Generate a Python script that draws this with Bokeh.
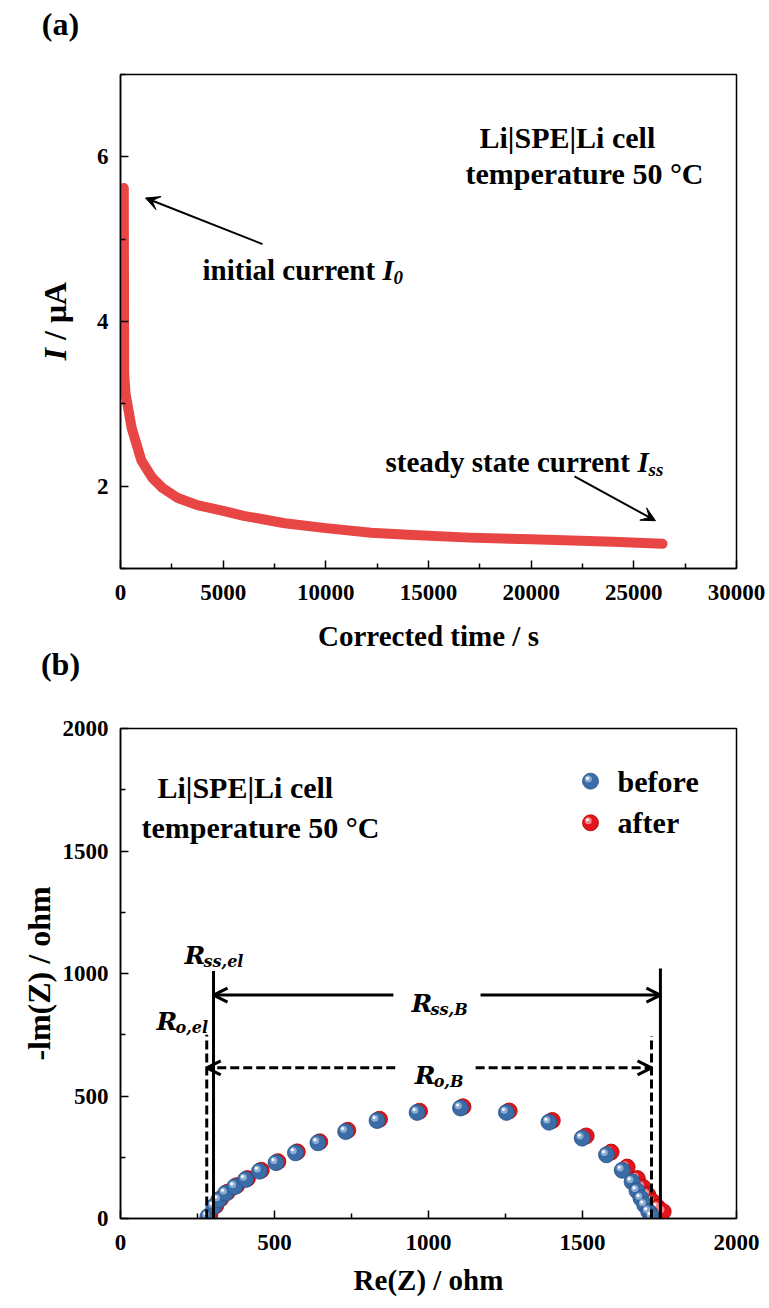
from bokeh.plotting import figure
from bokeh.models import Range1d, FixedTicker, Label, Arrow, VeeHead, OpenHead, LinearAxis
from bokeh.layouts import column, row
from bokeh.embed import file_html
from bokeh.resources import INLINE

SERIF = "Liberation Serif"
MATH = "DejaVu Serif"
HALF_PI = 1.5707963267948966

# ---------------- (a) chronoamperometry ----------------
time_s = [160, 170, 180, 243, 540, 1020, 1550, 2040, 2760, 3740, 5000, 6000,
          8000, 10000, 12200, 14000, 17000, 20000, 22000, 24000, 26400]
current_uA = [5.62, 4.50, 3.37, 3.13, 2.71, 2.31, 2.10, 1.98, 1.86, 1.77, 1.70, 1.64,
              1.55, 1.49, 1.435, 1.41, 1.375, 1.355, 1.34, 1.325, 1.30]
a_xticks = [0, 5000, 10000, 15000, 20000, 25000, 30000]
a_xminor = [2500, 7500, 12500, 17500, 22500, 27500]
a_yticks = [2, 4, 6]
a_yminor = [1, 3, 5, 7]

# ---------------- (b) impedance ----------------
before_re = [284, 303, 319, 341, 371, 406, 451, 505, 568, 641, 731, 833, 963, 1104,
             1253, 1391, 1499, 1578, 1629, 1661, 1677, 1690, 1702, 1715, 1726]
before_im = [8, 49, 76, 103, 130, 159, 193, 228, 268, 309, 355, 400, 433, 451,
             433, 393, 328, 260, 197, 150, 113, 82, 55, 28, 8]
after_re = [290, 309, 325, 347, 377, 412, 457, 511, 574, 647, 738, 841, 971, 1112,
            1262, 1402, 1512, 1593, 1645, 1678, 1696, 1712, 1727, 1745, 1762]
after_im = [12, 52, 80, 107, 134, 163, 197, 232, 272, 313, 360, 405, 438, 456,
            439, 400, 337, 271, 210, 163, 128, 97, 70, 45, 28]
b_ticks = [0, 500, 1000, 1500, 2000]
b_minor = [250, 750, 1250, 1750]
legend_labels = ["before", "after"]

# resistance markers (ohm)
R_ss_el, R_ss_end = 302, 1753
R_o_el, R_o_end = 280, 1724
ss_line_top = [1010, 1020]
o_line_top = [750, 745]
ss_arrow_y, o_arrow_y = 912, 615
ss_gap = [886, 1169]
o_gap = [892, 1153]

BLUE, BLUE_EDGE, BLUE_HI = "#3A6CA8", "#2A5283", "#9DB9DA"
RED, RED_EDGE, RED_HI = "#E3141B", "#B00000", "#F49A9A"
CURVE = "#E84545"


def style(p):
    p.grid.visible = False
    p.background_fill_color = "white"
    p.border_fill_color = "white"
    p.outline_line_color = "black"
    p.outline_line_width = 1.5
    for ax in (p.xaxis[0], p.yaxis[0]):
        ax.axis_line_width = 1.5
        ax.axis_line_color = "black"
        ax.major_tick_in = 8
        ax.major_tick_out = 0
        ax.minor_tick_in = 5
        ax.minor_tick_out = 0
        ax.major_tick_line_width = 1.5
        ax.minor_tick_line_width = 1.5
        ax.major_tick_line_color = "black"
        ax.minor_tick_line_color = "black"
        ax.major_label_text_font = SERIF
        ax.major_label_text_font_style = "bold"
        ax.major_label_text_font_size = "23px"
        ax.major_label_text_color = "black"
        ax.axis_label_text_font = SERIF
        ax.axis_label_text_font_style = "bold"
        ax.axis_label_text_color = "black"
    p.xaxis.axis_label_text_font_size = "29px"
    p.yaxis.axis_label_text_font_size = "32px"
    p.xaxis.major_label_standoff = 16
    p.yaxis.major_label_standoff = 12


def lab(p, text, x, y, size, style_="bold", font=SERIF,
        align="left", baseline="alphabetic", angle=0.0, xo=0, yo=0):
    p.add_layout(Label(x=x, y=y, text=text,
                       text_font=font, text_font_size=f"{size}px",
                       text_font_style=style_, text_align=align,
                       text_baseline=baseline, angle=angle,
                       x_offset=xo, y_offset=yo, text_color="black"))


def letter_axis(text, standoff):
    return LinearAxis(ticker=FixedTicker(ticks=[]), axis_label=text,
                      axis_line_color=None, major_tick_line_color=None,
                      minor_tick_line_color=None, major_tick_out=0, minor_tick_out=0,
                      major_tick_in=0, minor_tick_in=0,
                      major_label_text_font_size="0px", major_label_standoff=0,
                      axis_label_standoff=standoff, axis_label_text_font=SERIF,
                      axis_label_text_font_style="bold", axis_label_text_font_size="32px",
                      axis_label_text_color="black")


FRAME_H1 = 494
TOP1, BOT1 = 74, 122
GW = 85          # gutter width (page x 0..85)
G_LEFT = 35      # gutter frame starts at page x 35 -> frame centre at x 60

# ======================= gutter (panel letters, y title of (a)) =======================
gut = figure(width=GW, height=TOP1 + FRAME_H1 + BOT1,
             x_range=Range1d(0, GW - G_LEFT), y_range=Range1d(0, FRAME_H1),
             min_border_left=G_LEFT, min_border_right=0,
             min_border_top=0, min_border_bottom=0,
             x_axis_location=None, y_axis_location=None,
             output_backend="svg", toolbar_location=None)
gut.grid.visible = False
gut.outline_line_color = None
gut.background_fill_color = "white"
gut.border_fill_color = "white"
gut.add_layout(letter_axis("(a)", 33), "above")
gut.add_layout(letter_axis("(b)", 77), "below")
# "I / μA": x in px from gutter frame left, y in px up from frame bottom of panel (a)
lab(gut, "I", 54 - G_LEFT, 208, 32, style_="bold italic", baseline="middle", angle=HALF_PI)
lab(gut, "/ μA", 54 - G_LEFT, 228.5, 32, baseline="middle", angle=HALF_PI)

# ======================= panel (a) =======================
p1 = figure(frame_width=616, frame_height=FRAME_H1,
            x_range=Range1d(0, 30000), y_range=Range1d(1, 7),
            min_border_left=120 - GW, min_border_right=33,
            min_border_top=TOP1, min_border_bottom=BOT1,
            output_backend="svg", toolbar_location=None)
style(p1)
p1.xaxis.ticker = FixedTicker(ticks=a_xticks, minor_ticks=a_xminor)
p1.yaxis.ticker = FixedTicker(ticks=a_yticks, minor_ticks=a_yminor)
p1.xaxis.axis_label = "Corrected time / s"
p1.xaxis.axis_label_standoff = 17

p1.line(time_s, current_uA, line_width=10, line_color=CURVE,
        line_cap="round", line_join="round")

lab(p1, "Li|SPE|Li cell", 17484, 6.235, 30)
lab(p1, "temperature 50 °C", 16802, 5.80, 30)
lab(p1, "initial current", 3994, 4.62, 29)
lab(p1, "I", 3994, 4.62, 29, style_="bold italic", xo=180)
lab(p1, "0", 3994, 4.62, 19, style_="bold italic", xo=191, yo=-7)
lab(p1, "steady state current", 12906, 2.29, 29)
lab(p1, "I", 12906, 2.29, 29, style_="bold italic", xo=252)
lab(p1, "ss", 12906, 2.29, 19, style_="bold italic", xo=263, yo=-7)

arrow_a_start = [(6916, 4.94), (22110, 2.12)]
arrow_a_end = [(1218, 5.50), (26055, 1.58)]
for (xs, ys), (xe, ye) in zip(arrow_a_start, arrow_a_end):
    p1.add_layout(Arrow(end=VeeHead(size=14, fill_color="black", line_color="black"),
                        x_start=xs, y_start=ys, x_end=xe, y_end=ye,
                        line_width=2, line_color="black"))

# ======================= panel (b) =======================
p2 = figure(frame_width=616, frame_height=490,
            x_range=Range1d(0, 2000), y_range=Range1d(0, 2000),
            min_border_left=120, min_border_right=33,
            min_border_top=38, min_border_bottom=88,
            output_backend="svg", toolbar_location=None)
style(p2)
p2.xaxis.ticker = FixedTicker(ticks=b_ticks, minor_ticks=b_minor)
p2.yaxis.ticker = FixedTicker(ticks=b_ticks, minor_ticks=b_minor)
p2.xaxis.axis_label = "Re(Z) / ohm"
p2.xaxis.axis_label_standoff = 11
p2.yaxis.axis_label = "-lm(Z) / ohm"
p2.yaxis.axis_label_standoff = 3

PXX = 616 / 2000.0
PXY = 490 / 2000.0


def spheres(p, xs, ys, base, edge, hi):
    p.scatter(xs, ys, size=16, fill_color=base, line_color=edge, line_width=0.8)
    hx = [x - 2.2 / PXX for x in xs]
    hy = [y + 2.2 / PXY for y in ys]
    p.scatter(hx, hy, size=7, fill_color=hi, line_color=None, fill_alpha=0.85)
    wx = [x - 3.0 / PXX for x in xs]
    wy = [y + 3.0 / PXY for y in ys]
    p.scatter(wx, wy, size=3, fill_color="white", line_color=None)


spheres(p2, after_re, after_im, RED, RED_EDGE, RED_HI)
spheres(p2, before_re, before_im, BLUE, BLUE_EDGE, BLUE_HI)

# legend (manual, sphere markers)
leg_x, leg_y = [1526, 1526], [1785, 1615]
spheres(p2, [leg_x[0]], [leg_y[0]], BLUE, BLUE_EDGE, BLUE_HI)
spheres(p2, [leg_x[1]], [leg_y[1]], RED, RED_EDGE, RED_HI)
for name, yy in zip(legend_labels, leg_y):
    lab(p2, name, 1614, yy, 30, baseline="middle")

# vertical resistance lines
p2.segment(x0=[R_ss_el, R_ss_end], y0=[0, 0], x1=[R_ss_el, R_ss_end], y1=ss_line_top,
           line_width=3, line_color="black")
p2.segment(x0=[R_o_el, R_o_end], y0=[0, 0], x1=[R_o_el, R_o_end], y1=o_line_top,
           line_width=3, line_color="black", line_dash="9 4")

# horizontal double arrows
for (xs, xe) in [(ss_gap[0], R_ss_el), (ss_gap[1], R_ss_end)]:
    p2.add_layout(Arrow(end=OpenHead(size=14, line_width=3, line_color="black"),
                        x_start=xs, y_start=ss_arrow_y, x_end=xe, y_end=ss_arrow_y,
                        line_width=3, line_color="black"))
for (xs, xe) in [(o_gap[0], R_o_el), (o_gap[1], R_o_end)]:
    p2.add_layout(Arrow(end=OpenHead(size=14, line_width=3, line_color="black"),
                        x_start=xs, y_start=o_arrow_y, x_end=xe, y_end=o_arrow_y,
                        line_width=3, line_color="black", line_dash="9 4"))


def rlabel(x, y, sub):
    lab(p2, "R", x, y, 25, style_="bold italic", font=MATH)
    lab(p2, sub, x, y, 16, style_="bold italic", font=MATH, xo=19, yo=-6)


rlabel(208, 1073, "ss,el")
rlabel(117, 806, "o,el")
rlabel(945, 879, "ss,B")
rlabel(955, 583, "o,B")

lab(p2, "Li|SPE|Li cell", 120, 1761, 30)
lab(p2, "temperature 50 °C", 68, 1595, 30)

layout = column(row(gut, p1, spacing=0), p2, spacing=0)
open("out.html", "w").write(file_html(layout, INLINE))
